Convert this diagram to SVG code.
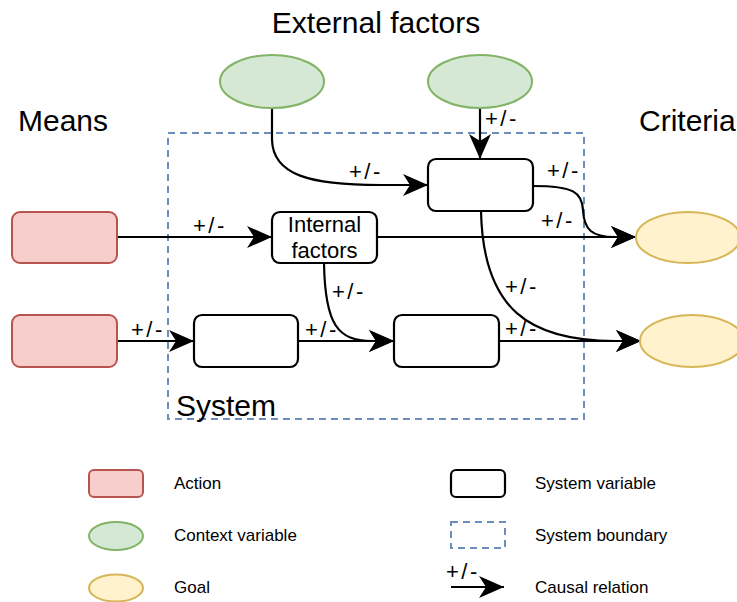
<svg xmlns="http://www.w3.org/2000/svg" width="737" height="602" viewBox="0 0 737 602">
<defs>
<style>
text{font-family:"Liberation Sans",Arial,sans-serif;fill:#000}
.big{font-size:30px}
.lbl{font-size:22px;letter-spacing:2.5px}
.leg{font-size:17px}
.act{fill:#F8CECC;stroke:#B85450;stroke-width:2}
.ctx{fill:#D5E8D4;stroke:#82B366;stroke-width:2}
.goal{fill:#FFF2CC;stroke:#D6B656;stroke-width:2}
.sys{fill:#FFFFFF;stroke:#000;stroke-width:2.2}
.bnd{fill:none;stroke:#6C8EBF;stroke-width:2;stroke-dasharray:7 5}
.edge{fill:none;stroke:#000;stroke-width:2.2;marker-end:url(#arr)}
</style>
<marker id="arr" markerUnits="userSpaceOnUse" markerWidth="27" markerHeight="26" viewBox="-26 -13 27 26" refX="0" refY="0" orient="auto">
<path d="M0,0 L-25,-11 L-18,0 L-25,11 Z" fill="#000"/>
</marker>
</defs>
<rect width="737" height="602" fill="#FFFFFF"/>

<g id="boundary">
<rect class="bnd" x="168" y="133" width="416" height="286"/>
<text class="big" x="176" y="416">System</text>
</g>

<text class="big" x="376" y="33" text-anchor="middle">External factors</text>
<text class="big" x="18" y="131">Means</text>
<text class="big" x="639" y="131">Criteria</text>

<g id="connectors">
<path class="edge" d="M272,108 L272,140 C273,175 310,185 380,185 L428,185"/>
<path class="edge" d="M480,108 L480,159"/>
<path class="edge" d="M533,186 C575,186 582,193 583,210 C584,230 592,237 615,237 L636,237"/>
<path class="edge" d="M117,237 L272,237"/>
<path class="edge" d="M377,237 L636,237"/>
<path class="edge" d="M324,263 C325,325 338,341 372,341 L394,341"/>
<path class="edge" d="M481,211 C483,310 530,341 615,341 L641,341"/>
<path class="edge" d="M117,341 L194,341"/>
<path class="edge" d="M298,341 L394,341"/>
<path class="edge" d="M499,341 L641,341"/>
<text class="lbl" x="349" y="179">+/-</text>
<text class="lbl" x="485" y="126">+/-</text>
<text class="lbl" x="547" y="178">+/-</text>
<text class="lbl" x="193" y="233">+/-</text>
<text class="lbl" x="541" y="228">+/-</text>
<text class="lbl" x="332" y="299">+/-</text>
<text class="lbl" x="505" y="294">+/-</text>
<text class="lbl" x="131" y="337">+/-</text>
<text class="lbl" x="305" y="337">+/-</text>
<text class="lbl" x="505" y="336">+/-</text>
</g>

<g id="ctx1"><ellipse class="ctx" cx="272" cy="81.5" rx="52" ry="26.5"/></g>
<g id="ctx2"><ellipse class="ctx" cx="480" cy="81.5" rx="52" ry="26.5"/></g>
<g id="sysTop"><rect class="sys" x="428" y="159" width="105" height="52" rx="8"/></g>
<g id="internal">
<rect class="sys" x="272" y="212" width="105" height="51" rx="8"/>
<text x="324.5" y="232" text-anchor="middle" font-size="22">Internal</text>
<text x="324.5" y="258" text-anchor="middle" font-size="22">factors</text>
</g>
<g id="action1"><rect class="act" x="12" y="212" width="105" height="51" rx="8"/></g>
<g id="action2"><rect class="act" x="12" y="315" width="105" height="52" rx="8"/></g>
<g id="sysA"><rect class="sys" x="194" y="315" width="104" height="52" rx="8"/></g>
<g id="sysB"><rect class="sys" x="394" y="315" width="105" height="52" rx="8"/></g>
<g id="goal1"><ellipse class="goal" cx="688" cy="237.5" rx="52" ry="25.5"/></g>
<g id="goal2"><ellipse class="goal" cx="692" cy="341" rx="52" ry="26"/></g>

<g id="legend">
<rect class="act" x="89" y="470" width="54" height="27" rx="5"/>
<text class="leg" x="174" y="489">Action</text>
<ellipse class="ctx" cx="116" cy="536" rx="27" ry="14"/>
<text class="leg" x="174" y="541">Context variable</text>
<ellipse class="goal" cx="116" cy="588" rx="27" ry="13.5"/>
<text class="leg" x="174" y="593">Goal</text>
<rect class="sys" x="451" y="470" width="54" height="27" rx="5"/>
<text class="leg" x="535" y="489">System variable</text>
<rect class="bnd" x="451" y="522" width="54" height="26"/>
<text class="leg" x="535" y="541">System boundary</text>
<path class="edge" d="M451,587 L504,587"/>
<text class="lbl" x="446" y="579">+/-</text>
<text class="leg" x="535" y="593">Causal relation</text>
</g>
</svg>
